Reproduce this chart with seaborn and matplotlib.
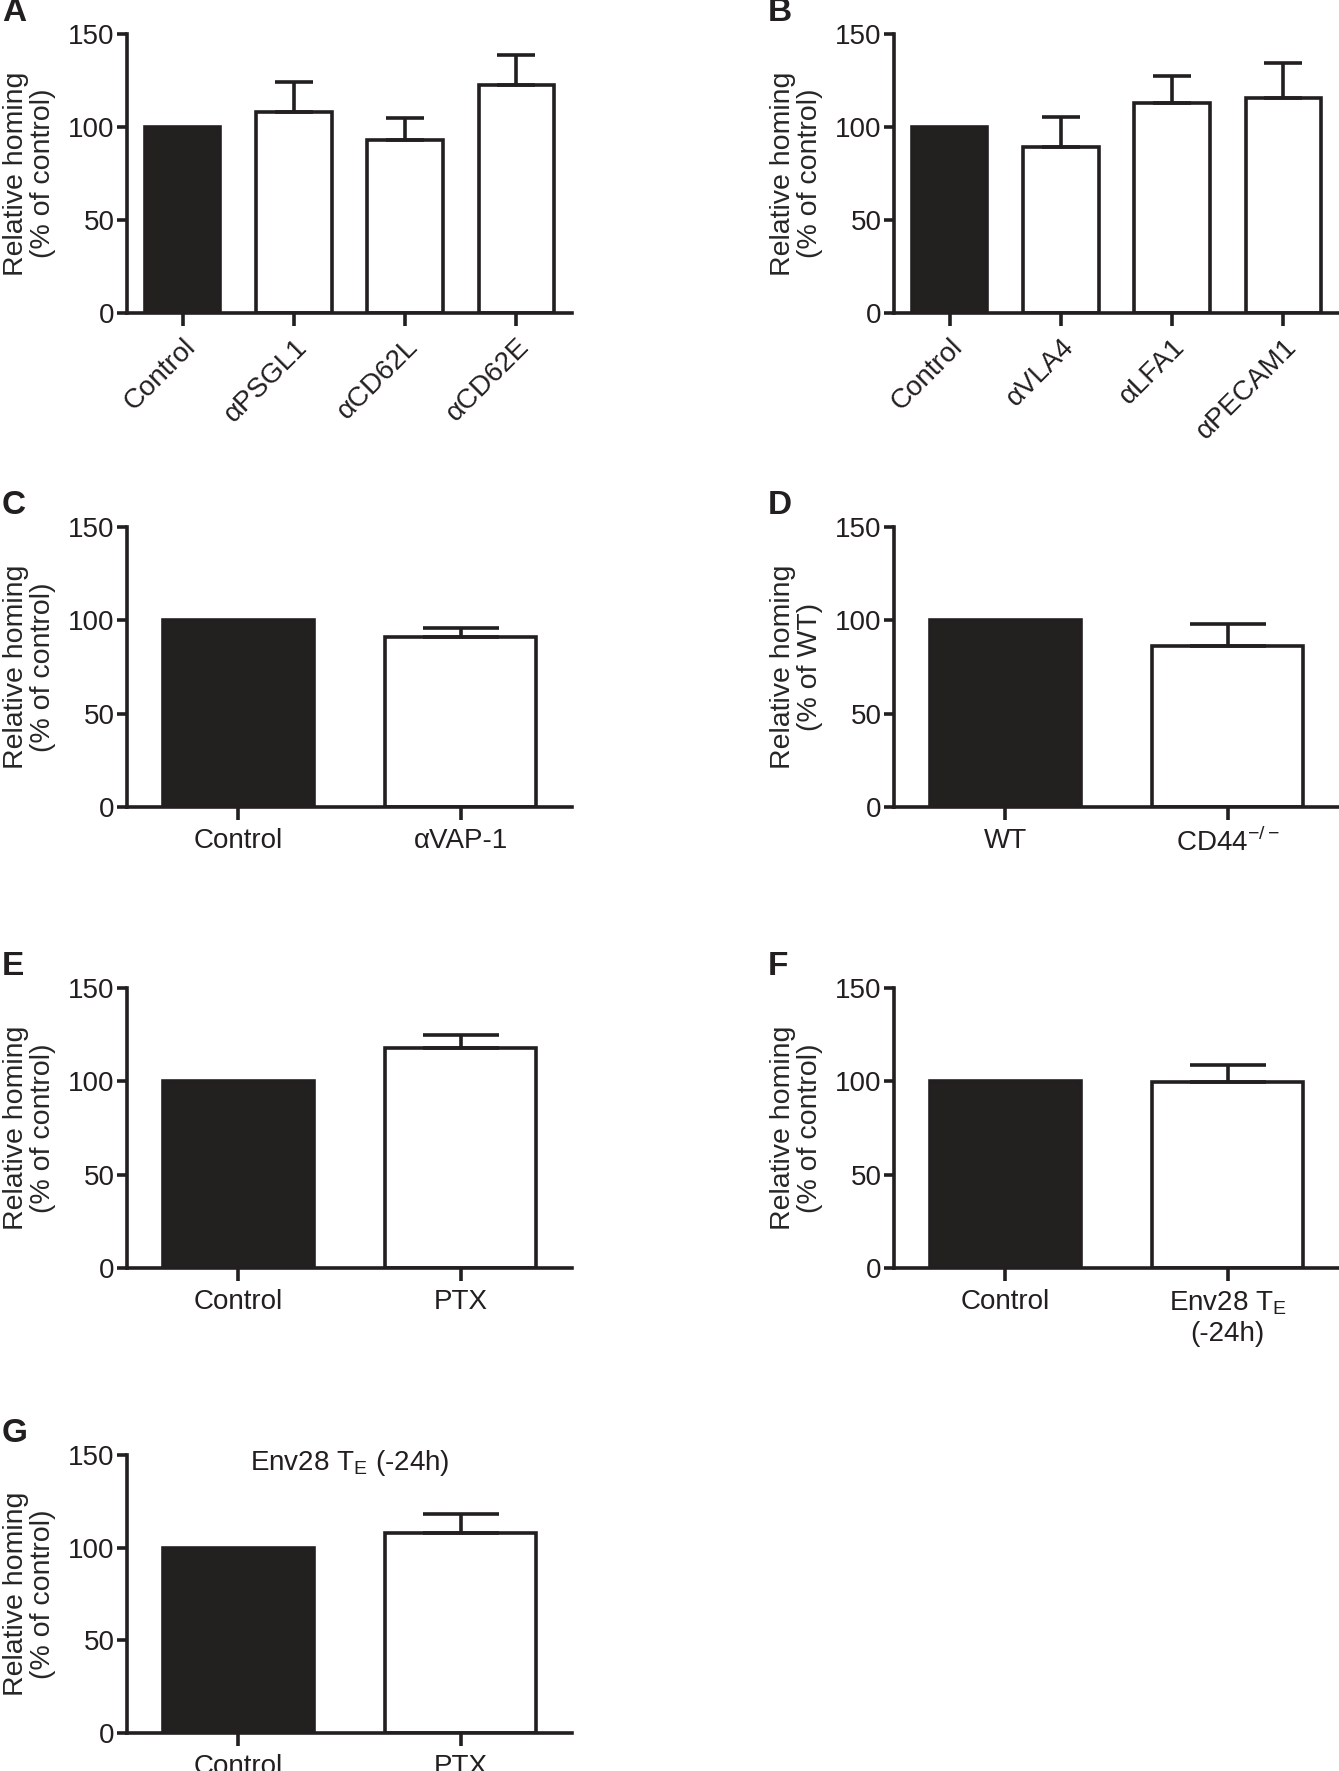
import numpy as np
import matplotlib
matplotlib.use("Agg")
import matplotlib.pyplot as plt
import seaborn as sns

# --- data ---
a_labels = ["Control", "αPSGL1", "αCD62L", "αCD62E"]
a_means = [100, 108, 93, 122.6]
a_sem = [0, 16.4, 11.8, 16.3]

b_labels = ["Control", "αVLA4", "αLFA1", "αPECAM1"]
b_means = [100, 89, 112.7, 115.4]
b_sem = [0, 16.4, 14.7, 19.0]

c_labels = ["Control", "αVAP-1"]
c_means = [100, 91.1]
c_sem = [0, 5.0]

d_labels = ["WT", r"CD44$^{\mathregular{-/-}}$"]
d_means = [100, 86.1]
d_sem = [0, 12.1]

e_labels = ["Control", "PTX"]
e_means = [100, 117.9]
e_sem = [0, 7.1]

f_labels = ["Control", "Env28 T$_{\\mathregular{E}}$\n(-24h)"]
f_means = [100, 99.6]
f_sem = [0, 9.2]

g_labels = ["Control", "PTX"]
g_means = [100, 107.8]
g_sem = [0, 10.5]

ink = "#231f20"

sns.set_style("ticks")
plt.rcParams["font.family"] = ["Liberation Sans Narrow", "Liberation Sans", "DejaVu Sans"]
plt.rcParams["mathtext.fontset"] = "custom"
plt.rcParams["axes.linewidth"] = 2.6
plt.rcParams["axes.edgecolor"] = ink
plt.rcParams["xtick.color"] = ink
plt.rcParams["ytick.color"] = ink
plt.rcParams["text.color"] = ink

W, H = 1339, 1771
fig = plt.figure(figsize=(W / 100, H / 100), dpi=100)

cols = [(127, 572), (894, 1339)]
rows = [(34, 313), (527, 807), (988, 1268), (1455, 1733)]


def panel(col, row, labels, means, sem, letter, ylabel="Relative homing\n(% of control)",
          rotate=False, title=None):
    l, r = cols[col]
    t, b = rows[row]
    ax = fig.add_axes([l / W, 1 - b / H, (r - l) / W, (b - t) / H])
    n = len(labels)
    colors = [ink] + ["white"] * (n - 1)
    sns.barplot(x=labels, y=means, hue=labels, palette=colors, legend=False,
                width=0.68, edgecolor=ink, linewidth=2.6, ax=ax)
    # upper-only error bars
    spacing_px = (r - l) / n
    cap_pt = 0.25 * 0.68 * spacing_px * 0.72
    yerr = np.array([[0] * n, sem])
    idx = [i for i in range(n) if sem[i] > 0]
    ax.errorbar(idx, [means[i] for i in idx],
                yerr=yerr[:, idx], fmt="none", ecolor=ink, elinewidth=2.6,
                capsize=cap_pt, capthick=2.6, zorder=1)
    ax.set_xlim(-0.5, n - 0.5)
    ax.set_ylim(0, 150)
    ax.set_yticks([0, 50, 100, 150])
    sns.despine(ax=ax)
    ax.tick_params(axis="y", length=7, width=2.6, labelsize=20, pad=2)
    ax.tick_params(axis="x", length=9, width=2.6, labelsize=20, pad=6)
    if rotate:
        plt.setp(ax.get_xticklabels(), rotation=45, ha="right",
                 rotation_mode="anchor")
    ax.set_ylabel(ylabel, fontsize=20.5, family=["Liberation Sans", "DejaVu Sans"],
                  linespacing=1.05)
    ax.yaxis.set_label_coords(-0.16, 0.5)
    ax.set_xlabel("")
    if title:
        ax.text(0.5, 0.945, title, transform=ax.transAxes, ha="center",
                va="baseline", fontsize=20)
    lx = 2 if col == 0 else 768
    fig.text(lx / W, 1 - (t - 6) / H, letter, fontsize=24, fontweight="bold",
             family=["Liberation Sans", "DejaVu Sans"], ha="left", va="bottom",
             color=ink)
    return ax


panel(0, 0, a_labels, a_means, a_sem, "A", rotate=True)
panel(1, 0, b_labels, b_means, b_sem, "B", rotate=True)
panel(0, 1, c_labels, c_means, c_sem, "C")
panel(1, 1, d_labels, d_means, d_sem, "D", ylabel="Relative homing\n(% of WT)")
panel(0, 2, e_labels, e_means, e_sem, "E")
panel(1, 2, f_labels, f_means, f_sem, "F")
panel(0, 3, g_labels, g_means, g_sem, "G", title=r"Env28 T$_{\mathregular{E}}$ (-24h)")

fig.savefig("out.png", dpi=100, facecolor="white")
